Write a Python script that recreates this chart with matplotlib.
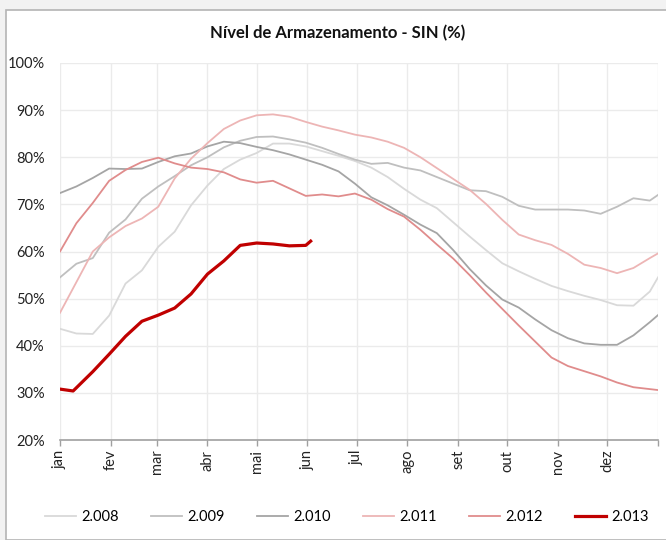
import matplotlib
matplotlib.use("Agg")
import matplotlib.pyplot as plt
from matplotlib.patches import Rectangle
from matplotlib.ticker import FuncFormatter

plt.rcParams['font.family'] = ['Lato', 'DejaVu Sans']

# day of year for each sample
days = [0, 10, 20, 30, 40, 50, 60, 70, 80, 90, 100, 110, 120, 130, 140, 150,
        160, 170, 180, 190, 200, 210, 220, 230, 240, 250, 260, 270, 280, 290,
        300, 310, 320, 330, 340, 350, 360, 365]

y2008 = [43.6, 42.6, 42.5, 46.4, 53.2, 56.0, 61.0, 64.2, 69.8, 74.0, 77.5, 79.5,
         80.9, 82.9, 82.9, 82.3, 81.3, 80.3, 79.2, 77.8, 75.8, 73.3, 71.0, 69.2,
         66.2, 63.2, 60.3, 57.5, 55.8, 54.2, 52.7, 51.6, 50.6, 49.7, 48.6, 48.5,
         51.5, 54.5]
y2009 = [54.5, 57.4, 58.6, 64.0, 66.8, 71.2, 73.8, 76.0, 78.3, 80.0, 82.1, 83.5,
         84.3, 84.4, 83.8, 83.1, 82.0, 80.7, 79.5, 78.6, 78.8, 77.8, 77.2, 75.8,
         74.4, 73.0, 72.8, 71.6, 69.7, 68.9, 68.9, 68.9, 68.7, 68.0, 69.5, 71.3,
         70.8, 72.0]
y2010 = [72.4, 73.8, 75.6, 77.6, 77.5, 77.6, 79.0, 80.2, 80.8, 82.3, 83.3, 83.0,
         82.2, 81.5, 80.6, 79.5, 78.4, 77.0, 74.4, 71.5, 69.8, 67.8, 65.7, 63.9,
         60.3, 56.3, 52.8, 49.8, 48.1, 45.6, 43.3, 41.6, 40.5, 40.2, 40.2, 42.2,
         45.0, 46.5]
y2011 = [47.0, 53.5, 60.0, 63.0, 65.4, 67.0, 69.5, 75.5, 79.7, 83.0, 86.0, 87.8,
         88.9, 89.1, 88.6, 87.5, 86.5, 85.7, 84.8, 84.2, 83.3, 82.0, 80.0, 77.7,
         75.4, 73.1, 70.1, 66.7, 63.6, 62.4, 61.4, 59.5, 57.2, 56.5, 55.4, 56.5,
         58.6, 59.6]
y2012 = [60.0, 66.0, 70.3, 75.0, 77.3, 79.0, 79.9, 78.7, 77.8, 77.5, 76.8, 75.3,
         74.6, 75.0, 73.4, 71.8, 72.1, 71.7, 72.3, 71.0, 69.0, 67.4, 64.6, 61.5,
         58.5, 55.0, 51.3, 47.8, 44.3, 40.9, 37.5, 35.7, 34.6, 33.5, 32.2, 31.2,
         30.8, 30.6]
days2013 = [0, 8, 20, 30, 40, 50, 60, 70, 80, 90, 100, 110, 120, 130, 140, 150, 153]
y2013 = [30.8, 30.4, 34.5, 38.2, 42.0, 45.2, 46.5, 48.0, 51.0, 55.2, 58.0, 61.3,
         61.8, 61.6, 61.2, 61.3, 62.2]

month_days = [0, 31, 59, 90, 120, 151, 181, 212, 243, 273, 304, 334, 365]
month_labels = ['jan', 'fev', 'mar', 'abr', 'mai', 'jun', 'jul', 'ago', 'set',
                'out', 'nov', 'dez']

fig = plt.figure(figsize=(6.66, 5.4), dpi=100, facecolor='#F2F2F2')
# white chart area with thin border
fig.patches.append(Rectangle((6 / 666, 0), 1, 1 - 10 / 540, transform=fig.transFigure,
                             facecolor='white', edgecolor='#B4B4B4', linewidth=1.2,
                             zorder=-1))

ax = fig.add_axes([60 / 666, 1 - 440 / 540, 598 / 666, 377 / 540])
ax.set_facecolor('white')

ax.plot(days, y2008, color='#D9D9D9', lw=1.3, label='2.008')
ax.plot(days, y2009, color='#BFBFBF', lw=1.3, label='2.009')
ax.plot(days, y2010, color='#A5A5A5', lw=1.3, label='2.010')
ax.plot(days, y2011, color='#EDB5B5', lw=1.3, label='2.011')
ax.plot(days, y2012, color='#E08C8C', lw=1.3, label='2.012')
ax.plot(days2013, y2013, color='#C00000', lw=2.3, label='2.013')

ax.set_xlim(0, 365)
ax.set_ylim(20, 100)
ax.set_yticks(range(20, 101, 10))
ax.yaxis.set_major_formatter(FuncFormatter(lambda v, p: f'{v:.0f}%'))
ax.set_xticks(month_days)
ax.set_xticklabels(month_labels + [''], rotation=90, fontsize=10.5, color='#222222')
ax.tick_params(axis='y', length=0, pad=11, labelsize=10.5, labelcolor='#222222')
ax.tick_params(axis='x', length=4, width=1, color='#A0A0A0', pad=3, direction='out')

ax.grid(True, color='#EBEBEB', linewidth=1)
ax.set_axisbelow(True)
for s in ['top', 'right', 'left']:
    ax.spines[s].set_visible(False)
ax.spines['bottom'].set_color('#A0A0A0')
ax.spines['bottom'].set_linewidth(1.2)

fig.text(338 / 666, 1 - 33 / 540, 'Nível de Armazenamento - SIN (%)', ha='center',
         va='center', fontsize=12, fontweight='bold', color='#111111')

fig.legend(loc='center', bbox_to_anchor=(347 / 666, 1 - 517 / 540), ncol=6,
           frameon=False, fontsize=10.5, handlelength=2.1, handletextpad=0.4,
           columnspacing=2.2)

fig.savefig('out.png', dpi=100, facecolor=fig.get_facecolor())
